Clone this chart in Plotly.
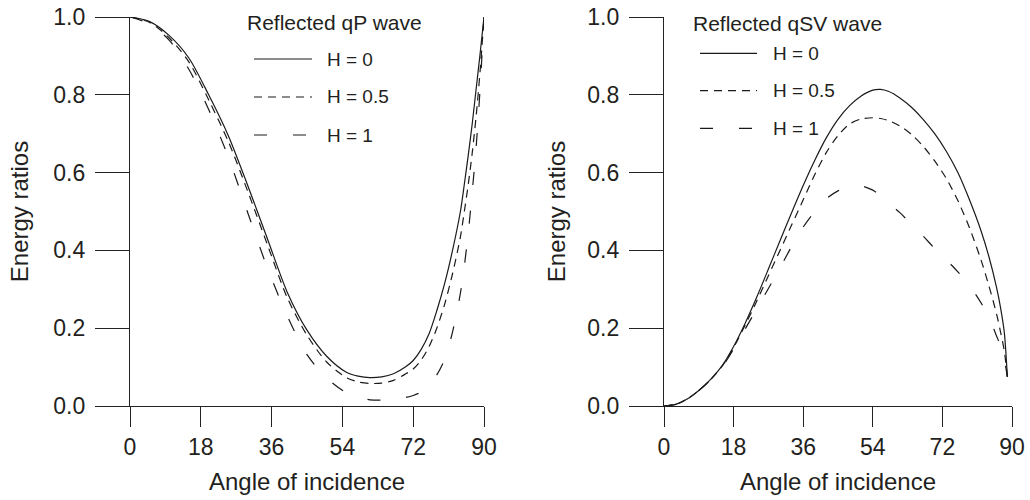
import plotly.graph_objects as go

# ---------------- data ----------------
angles_p = [0, 5, 10, 15, 20, 25, 30, 35, 40, 45, 50, 55, 58, 61, 64, 67, 70, 72, 74, 76, 78, 80, 82, 84, 85, 86, 87, 88, 89, 90]
qp_h0 = [1.0, 0.988, 0.952, 0.894, 0.800, 0.695, 0.565, 0.428, 0.292, 0.195, 0.128, 0.087, 0.077, 0.073, 0.075, 0.083, 0.100, 0.117, 0.145, 0.185, 0.245, 0.315, 0.400, 0.500, 0.570, 0.645, 0.725, 0.815, 0.905, 1.0]
qp_h05 = [1.0, 0.986, 0.946, 0.884, 0.787, 0.680, 0.550, 0.413, 0.278, 0.182, 0.113, 0.073, 0.062, 0.058, 0.059, 0.066, 0.082, 0.095, 0.118, 0.152, 0.200, 0.262, 0.340, 0.435, 0.500, 0.570, 0.650, 0.745, 0.860, 1.0]
qp_h1 = [1.0, 0.982, 0.940, 0.865, 0.762, 0.640, 0.495, 0.353, 0.231, 0.132, 0.072, 0.034, 0.023, 0.016, 0.015, 0.018, 0.022, 0.027, 0.036, 0.055, 0.080, 0.120, 0.190, 0.290, 0.360, 0.445, 0.550, 0.665, 0.815, 1.0]

angles_sv = [0, 3, 6, 9, 12, 15, 18, 21, 24, 27, 30, 33, 36, 39, 42, 45, 48, 51, 54, 56, 58, 61, 64, 67, 70, 73, 76, 79, 82, 84, 86, 87, 88, 88.8]
sv_h0 = [0, 0.004, 0.018, 0.040, 0.068, 0.103, 0.153, 0.213, 0.280, 0.352, 0.425, 0.497, 0.567, 0.632, 0.690, 0.737, 0.772, 0.797, 0.812, 0.814, 0.809, 0.792, 0.768, 0.737, 0.700, 0.655, 0.600, 0.530, 0.450, 0.385, 0.305, 0.255, 0.190, 0.075]
sv_h05 = [0, 0.004, 0.018, 0.040, 0.067, 0.102, 0.150, 0.208, 0.270, 0.335, 0.400, 0.465, 0.530, 0.595, 0.652, 0.695, 0.725, 0.738, 0.741, 0.739, 0.734, 0.720, 0.698, 0.668, 0.630, 0.585, 0.528, 0.458, 0.375, 0.310, 0.237, 0.192, 0.142, 0.075]
sv_h1 = [0, 0.004, 0.018, 0.040, 0.067, 0.100, 0.146, 0.198, 0.250, 0.302, 0.355, 0.410, 0.460, 0.500, 0.533, 0.553, 0.565, 0.566, 0.555, 0.540, 0.522, 0.497, 0.467, 0.437, 0.405, 0.376, 0.345, 0.310, 0.265, 0.230, 0.180, 0.155, 0.120, 0.075]

series_labels = ["H = 0", "H = 0.5", "H = 1"]
panel_titles = ["Reflected qP wave", "Reflected qSV wave"]
x_ticks = [0, 18, 36, 54, 72, 90]
y_ticks = [0.0, 0.2, 0.4, 0.6, 0.8, 1.0]
x_title = "Angle of incidence"
y_title = "Energy ratios"

# ---------------- style ----------------
W, H = 1030, 500
FONT = "Liberation Sans, Arial, Helvetica, sans-serif"
TXT = "#231f20"
LINE = "#1a1a1a"
AX = "#222222"
dashes = ["solid", "8px,6px", "13px,26px"]

fig = go.Figure()

panels = [
    (angles_p, [qp_h0, qp_h05, qp_h1], "x", "y"),
    (angles_sv, [sv_h0, sv_h05, sv_h1], "x2", "y2"),
]
for xs, ys_list, xa, ya in panels:
    for ys, lab, dsh in zip(ys_list, series_labels, dashes):
        fig.add_trace(go.Scatter(
            x=xs, y=ys, mode="lines", name=lab, xaxis=xa, yaxis=ya,
            line=dict(color=LINE, width=1.2, dash=dsh, shape="spline", smoothing=0.8),
            showlegend=False,
        ))

def px_x(p):
    return p / W

def px_y(p):
    return 1 - p / H

ydom = [px_y(406), px_y(17)]
xdoms = [[px_x(130), px_x(484)], [px_x(664), px_x(1012)]]

def x_axis(dom, anchor):
    return dict(
        domain=dom, anchor=anchor,
        range=[0, 90], tickmode="array", tickvals=x_ticks,
        ticks="outside", ticklen=20, tickwidth=1.3, tickcolor=AX,
        showline=True, linecolor=AX, linewidth=1.3,
        showgrid=False, zeroline=False,
        tickfont=dict(family=FONT, size=23, color=TXT),
        title=dict(text=x_title, font=dict(family=FONT, size=24, color=TXT), standoff=14),
        fixedrange=True, automargin=False,
    )

def y_axis(dom, anchor, standoff):
    return dict(
        domain=dom, anchor=anchor,
        range=[0, 1], tickmode="array", tickvals=y_ticks, tickformat=".1f",
        ticks="outside", ticklen=34, tickwidth=1.3, tickcolor=AX,
        showline=True, linecolor=AX, linewidth=1.3,
        showgrid=False, zeroline=False,
        ticklabelstandoff=5,
        tickfont=dict(family=FONT, size=23, color=TXT),
        title=dict(text=y_title, font=dict(family=FONT, size=24, color=TXT), standoff=standoff),
        fixedrange=True, automargin=False,
    )

fig.update_layout(
    width=W, height=H,
    margin=dict(l=0, r=0, t=0, b=0),
    paper_bgcolor="white", plot_bgcolor="white",
    font=dict(family=FONT, color=TXT),
    showlegend=False,
    template="none",
    xaxis=x_axis(xdoms[0], "y"),
    yaxis=y_axis(ydom, "x", 17),
    xaxis2=x_axis(xdoms[1], "y2"),
    yaxis2=y_axis(ydom, "x2", 14),
)

# ---------------- hand-drawn legends ----------------
legend_specs = [
    dict(title_x=245, title_y=22.5, line_x0=254, line_x1=312, text_x=325, rows=[59, 97, 135]),
    dict(title_x=691, title_y=23.5, line_x0=700, line_x1=757, text_x=771, rows=[53.3, 90.7, 128.3]),
]
for spec, ptitle in zip(legend_specs, panel_titles):
    fig.add_annotation(
        x=px_x(spec["title_x"]), y=px_y(spec["title_y"]), xref="paper", yref="paper",
        text=ptitle, showarrow=False, xanchor="left", yanchor="middle",
        font=dict(family=FONT, size=21, color=TXT),
    )
    for ry, lab, dsh in zip(spec["rows"], series_labels, dashes):
        fig.add_shape(
            type="line", xref="paper", yref="paper",
            x0=px_x(spec["line_x0"]), x1=px_x(spec["line_x1"]), y0=px_y(ry), y1=px_y(ry),
            line=dict(color=LINE, width=1.2, dash=dsh),
        )
        fig.add_annotation(
            x=px_x(spec["text_x"]), y=px_y(ry), xref="paper", yref="paper",
            text=lab, showarrow=False, xanchor="left", yanchor="middle",
            font=dict(family=FONT, size=19, color=TXT),
        )

fig.write_html(
    "out.html",
    config={"displayModeBar": False},
    post_script="document.body.style.margin='0';document.body.style.overflow='hidden';",
)
